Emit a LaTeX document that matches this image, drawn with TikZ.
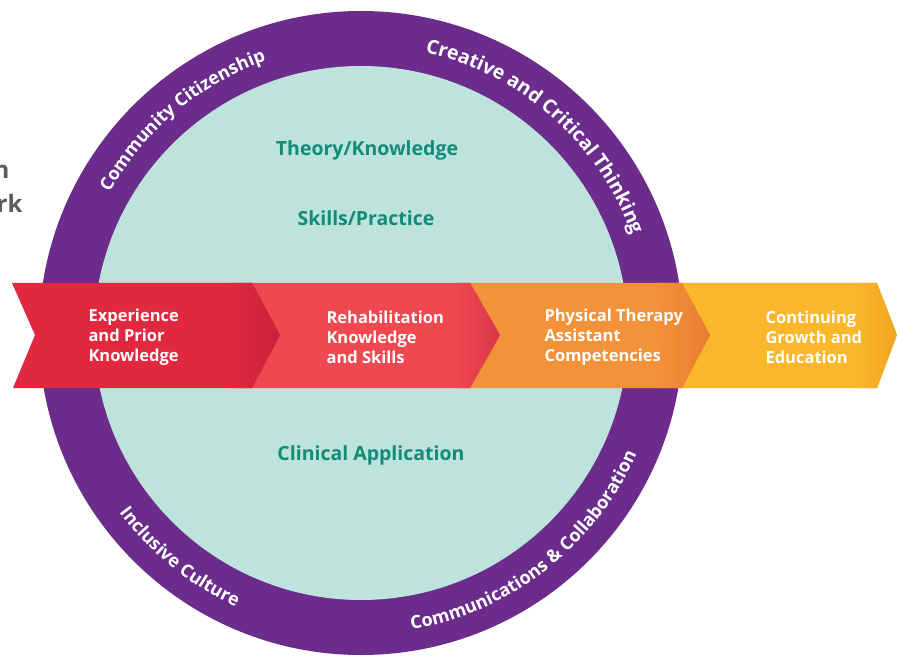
\documentclass[tikz,border=0pt]{standalone}
\usepackage{fontspec}
\setmainfont{Open Sans}
\usetikzlibrary{decorations.text}
\definecolor{ringpurple}{HTML}{6B2C8C}
\definecolor{innerteal}{HTML}{BEE3DC}
\definecolor{tealtext}{HTML}{108C78}
\definecolor{titlegray}{HTML}{5A5B5D}
\definecolor{segA}{HTML}{E2283F}
\definecolor{segAd}{HTML}{C8213E}
\definecolor{segB}{HTML}{EF4850}
\definecolor{segBd}{HTML}{D93749}
\definecolor{segC}{HTML}{F4923A}
\definecolor{segCd}{HTML}{E97D30}
\definecolor{segD}{HTML}{FAB72B}
\definecolor{segDd}{HTML}{F0A422}
\newcommand{\ringfont}{\fontsize{18}{20}\selectfont\bfseries}
\newcommand{\ringfontwide}{\fontsize{19.5}{21}\selectfont\bfseries}
\tikzset{
  bannertext/.style={anchor=west, align=left, text=white, font=\fontsize{16.5}{20}\selectfont\bfseries},
  coretext/.style={text=tealtext, font=\fontsize{19.5}{22}\selectfont\bfseries},
  titletext/.style={anchor=east, text=titlegray, font=\fontsize{24}{28}\selectfont\bfseries}
}
\begin{document}
\begin{tikzpicture}[x=1pt,y=1pt]
\useasboundingbox (0,0) rectangle (897,657);
\fill[white] (0,0) rectangle (897,657);
\coordinate (C) at (361,324);
% ring
\fill[ringpurple] (C) circle[radius=322];
\fill[innerteal] (C) circle[radius=267];
% partial title
\node[titletext] (t1) at (13,485) {n};
\node[titletext] (t2) at (26,454) {rk};
% ring labels
\path[decorate, decoration={text along path, text align=center, text color=white, text={|\ringfont|Community Citizenship}}] ([shift={(170:288)}]C) arc[start angle=170, end angle=90, radius=288];
\path[decorate, decoration={text along path, text align=center, text color=white, text={|\ringfontwide|Creative and Critical Thinking}}] ([shift={(95:288)}]C) arc[start angle=95, end angle=2, radius=288];
\path[decorate, decoration={text along path, text align=center, text color=white, text={|\ringfont|Inclusive Culture}}] ([shift={(190:301)}]C) arc[start angle=190, end angle=272, radius=301];
\path[decorate, decoration={text along path, text align=center, text color=white, text={|\ringfont|Communications {\&} Collaboration}}] ([shift={(260:301)}]C) arc[start angle=260, end angle=356, radius=301];
% banner segments (drawn right to left so tips overlap)
\fill[segD] (677,374) -- (877,374) -- (897,322) -- (877,269) -- (677,269) -- cycle;
\shade[left color=segD, right color=segDd] (855,374) -- (877,374) -- (897,322) -- (877,269) -- (855,269) -- cycle;
\fill[segC] (465,374) -- (682,374) -- (710,322) -- (682,269) -- (465,269) -- cycle;
\shade[left color=segC, right color=segCd] (655,374) -- (682,374) -- (710,322) -- (682,269) -- (655,269) -- cycle;
\fill[segB] (245,374) -- (470,374) -- (500,322) -- (470,269) -- (245,269) -- cycle;
\shade[left color=segB, right color=segBd] (455,374) -- (470,374) -- (500,322) -- (470,269) -- (455,269) -- cycle;
\fill[segA] (12,374) -- (252,374) -- (280,322) -- (252,269) -- (13,269) -- (35,322) -- cycle;
\shade[left color=segA, right color=segAd] (230,374) -- (252,374) -- (280,322) -- (252,269) -- (230,269) -- cycle;
% banner texts
\node[bannertext] (b1) at (85,320) {Experience\\and Prior\\Knowledge};
\node[bannertext] (b2) at (323,320) {Rehabilitation\\Knowledge\\and Skills};
\node[bannertext] (b3) at (541,320) {Physical Therapy\\Assistant\\Competencies};
\node[bannertext] (b4) at (762,320) {Continuing\\Growth and\\Education};
% core texts
\node[coretext] (k1) at (367,507) {Theory/Knowledge};
\node[coretext] (k2) at (366,439) {Skills/Practice};
\node[coretext] (k3) at (371,202) {Clinical Application};
\end{tikzpicture}
\end{document}
